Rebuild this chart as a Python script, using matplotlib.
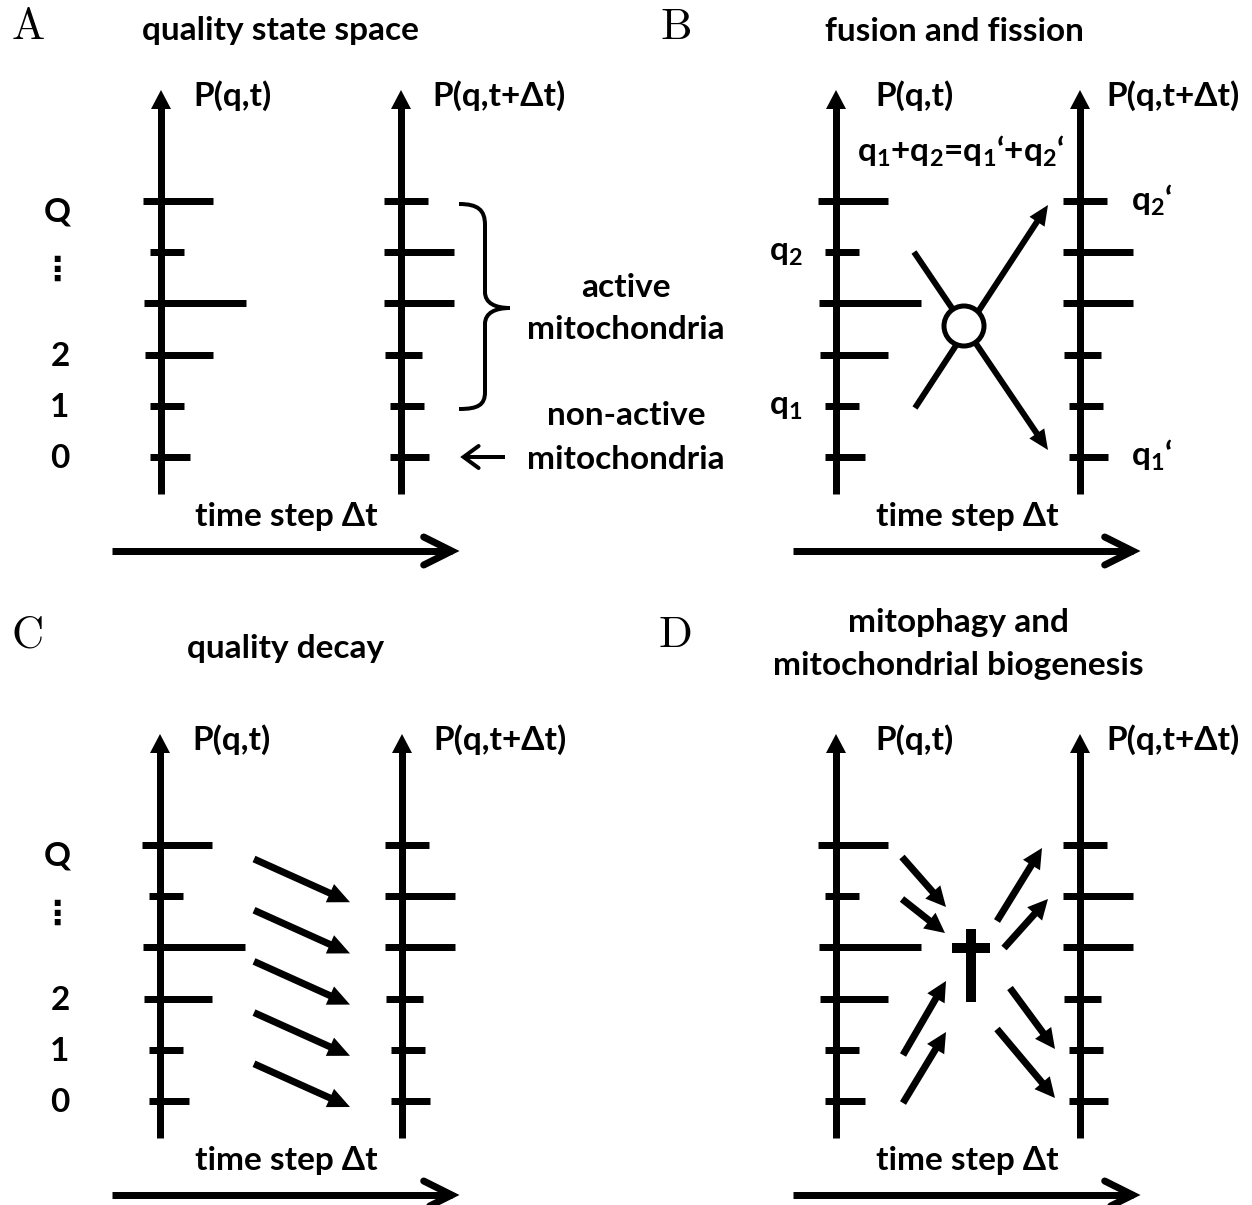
import matplotlib
matplotlib.use('Agg')
import matplotlib.pyplot as plt
from matplotlib.patches import Polygon, Circle, PathPatch, Rectangle
from matplotlib.path import Path
import numpy as np

W, H = 1252, 1205
DPI = 100
PX = 72 / DPI  # points per pixel

plt.rcParams['font.family'] = ['Lato', 'DejaVu Sans']
plt.rcParams['font.weight'] = 'bold'
plt.rcParams['mathtext.fontset'] = 'custom'
plt.rcParams['mathtext.rm'] = 'Lato:bold'
plt.rcParams['mathtext.it'] = 'Lato:bold'
plt.rcParams['mathtext.bf'] = 'Lato:bold'

# ---------------- data ----------------
level_labels = ['0', '1', '2', '', '\u22ee', 'Q']
p_t = [29, 23, 52, 85, 23, 52]          # bar length of P(q,t) per quality level
p_t_dt = [28, 23, 21, 53, 53, 27]       # bar length of P(q,t+dt) per quality level
overhang_t = [11, 11, 16, 17, 11, 18]
overhang_t_dt = [11, 11, 16, 17, 17, 17]
panel_letters = ['A', 'B', 'C', 'D']
panel_titles = ['quality state space', 'fusion and fission', 'quality decay',
                'mitophagy and\nmitochondrial biogenesis']
label_t = 'P(q,t)'
label_t_dt = 'P(q,t+\u0394t)'
time_label = 'time step \u0394t'

# ---------------- figure ----------------
fig = plt.figure(figsize=(W / DPI, H / DPI), dpi=DPI)
ax = fig.add_axes([0, 0, 1, 1])
ax.set_xlim(0, W)
ax.set_ylim(H, 0)
ax.axis('off')

FS = 24
LW = 7


def line(xs, ys, lw=LW, **kw):
    ax.plot(xs, ys, color='k', lw=lw * PX, solid_capstyle='butt', **kw)


def arrow(x0, y0, x1, y1, lw=7, hl=20, hw=10):
    d = np.array([x1 - x0, y1 - y0], float)
    u = d / np.hypot(*d)
    n = np.array([-u[1], u[0]])
    tip = np.array([x1, y1], float)
    base = tip - u * hl
    line([x0, base[0] + u[0]], [y0, base[1] + u[1]], lw)
    ax.add_patch(Polygon([tip, base + n * hw, base - n * hw], closed=True,
                         facecolor='k', edgecolor='none'))


def open_arrow(x0, y0, x1, y1, lw=7, hl=28, hw=14):
    d = np.array([x1 - x0, y1 - y0], float)
    u = d / np.hypot(*d)
    n = np.array([-u[1], u[0]])
    # pull the drawn tip back so the mitred join ends at the intended point
    tip = np.array([x1, y1], float) - u * lw * 0.9
    line([x0, tip[0]], [y0, tip[1]], lw)
    a = tip - u * hl + n * hw
    b = tip - u * hl - n * hw
    ax.plot([a[0], tip[0], b[0]], [a[1], tip[1], b[1]], color='k', lw=lw * PX,
            solid_joinstyle='miter', solid_capstyle='round')


def ly(yq, i):
    return yq + (5 - i) * 51.2


def quality_axis(x, yq, vals, over):
    # vertical axis with arrow
    arrow(x, yq + 293, x, yq - 111, lw=LW, hl=19, hw=10)
    for i, (v, o) in enumerate(zip(vals, over)):
        y = ly(yq, i)
        line([x - o, x + v], [y, y], LW)


panels = {
    'A': dict(xL=161, xR=401, yq=201, tx=280, ty=40),
    'B': dict(xL=836, xR=1080, yq=201, tx=954, ty=41),
    'C': dict(xL=160, xR=402, yq=845, tx=286, ty=658),
    'D': dict(xL=836, xR=1080, yq=845, tx=958, ty=632),
}

for k, (letter, title) in enumerate(zip(panel_letters, panel_titles)):
    p = panels[letter]
    xL, xR, yq = p['xL'], p['xR'], p['yq']
    quality_axis(xL, yq, p_t, overhang_t)
    quality_axis(xR, yq, p_t_dt, overhang_t_dt)
    # panel letter
    lx = 28 if letter in 'AC' else 676
    lyb = 39 if letter in 'AB' else 647
    ax.text(lx, lyb, letter, fontfamily='cmr10', fontweight='normal', fontsize=32,
            ha='center', va='baseline')
    # title
    if '\n' in title:
        t1, t2 = title.split('\n')
        ax.text(p['tx'], p['ty'], t1, fontsize=FS, ha='center', va='baseline')
        ax.text(p['tx'], p['ty'] + 43, t2, fontsize=FS, ha='center', va='baseline')
    else:
        ax.text(p['tx'], p['ty'], title, fontsize=FS, ha='center', va='baseline')
    # axis labels
    if letter in 'AC':
        ax.text(xL + 32, yq - 95, label_t, fontsize=FS, ha='left', va='baseline')
        ax.text(xR + 31, yq - 95, label_t_dt, fontsize=FS, ha='left', va='baseline')
    else:
        ax.text(xL + 39, yq - 95, label_t, fontsize=FS, ha='left', va='baseline')
        ax.text(xR + 26, yq - 95, label_t_dt, fontsize=FS, ha='left', va='baseline')
    # time arrow
    t0 = 112 if letter in 'AC' else 793
    ax.text(t0 + 174, yq + 325, time_label, fontsize=FS, ha='center', va='baseline')
    open_arrow(t0, yq + 350, t0 + 346, yq + 350, lw=7, hl=28, hw=14)
    # quality level labels in A and C
    if letter in 'AC':
        for i, lab in enumerate(level_labels):
            if not lab:
                continue
            y = ly(yq, i)
            if lab == 'Q':
                ax.text(57, y + 21, lab, fontsize=FS, ha='center', va='baseline')
            elif lab == '\u22ee':
                ax.text(57, y + 18, lab, fontsize=FS, ha='center', va='center',
                        fontfamily=['DejaVu Sans'])
            else:
                ax.text(60, y + 11, lab, fontsize=FS, ha='center', va='baseline')

# ---------- Panel A: brace and arrow ----------
A = panels['A']
yq = A['yq']
verts = [(459, 204), (478, 204), (485, 210), (485, 225),
         (485, 292),
         (485, 303), (495, 308), (510, 308),
         (495, 308), (485, 313), (485, 324),
         (485, 392),
         (485, 405), (478, 409), (459, 409)]
codes = [Path.MOVETO, Path.CURVE4, Path.CURVE4, Path.CURVE4,
         Path.LINETO,
         Path.CURVE4, Path.CURVE4, Path.CURVE4,
         Path.CURVE4, Path.CURVE4, Path.CURVE4,
         Path.LINETO,
         Path.CURVE4, Path.CURVE4, Path.CURVE4]
ax.add_patch(PathPatch(Path(verts, codes), facecolor='none', edgecolor='k',
                       lw=4 * PX, capstyle='butt'))
ax.text(626, 297, 'active', fontsize=FS, ha='center', va='baseline')
ax.text(626, 339, 'mitochondria', fontsize=FS, ha='center', va='baseline')
ax.text(626, 425, 'non-active', fontsize=FS, ha='center', va='baseline')
ax.text(626, 469, 'mitochondria', fontsize=FS, ha='center', va='baseline')
open_arrow(505, ly(yq, 0), 460, ly(yq, 0), lw=4, hl=15, hw=11)

# ---------- Panel B: fusion / fission ----------
B = panels['B']
yq = B['yq']
ax.text(786, ly(yq, 4) + 9, r'$\mathrm{q_2}$', fontsize=FS, ha='center', va='baseline')
ax.text(786, ly(yq, 1) + 9, r'$\mathrm{q_1}$', fontsize=FS, ha='center', va='baseline')
ax.text(1131, ly(yq, 5) + 10, r'$\mathrm{q_2}$' + '\u2018', fontsize=FS, ha='left', va='baseline')
ax.text(1131, ly(yq, 0) + 9, r'$\mathrm{q_1}$' + '\u2018', fontsize=FS, ha='left', va='baseline')
ax.text(961, 162, r'$\mathrm{q_1}$+$\mathrm{q_2}$=$\mathrm{q_1}$' + '\u2018+' + r'$\mathrm{q_2}$' + '\u2018',
        fontsize=FS, ha='center', va='baseline')
cx, cy = 964, 326
arrow(914, 252, 1048, 450, lw=6, hl=20, hw=9)
arrow(915, 408, 1048, 205, lw=6, hl=20, hw=9)
ax.add_patch(Circle((cx, cy), 20, facecolor='white', edgecolor='k', lw=5 * PX, zorder=3))

# ---------- Panel C: quality decay ----------
C = panels['C']
yq = C['yq']
for k in range(5, 0, -1):
    ys = ly(yq, k) + 14
    ye = ly(yq, k - 1) + 6
    arrow(C['xL'] + 94, ys, C['xL'] + 190, ye, lw=7, hl=22, hw=10)

# ---------- Panel D: mitophagy / biogenesis ----------
D = panels['D']
ax.add_patch(Rectangle((966, 929), 9.5, 73, facecolor='k', edgecolor='none'))
ax.add_patch(Rectangle((952, 943), 38, 10, facecolor='k', edgecolor='none'))
d_arrows = [
    ((902, 857), (946, 907)),
    ((902, 899), (945, 933)),
    ((903, 1055), (946, 981)),
    ((903, 1103), (946, 1032)),
    ((997, 921), (1042, 848)),
    ((1004, 948), (1048, 899)),
    ((1010, 988), (1055, 1049)),
    ((997, 1029), (1055, 1098)),
]
for (s, e) in d_arrows:
    arrow(s[0], s[1], e[0], e[1], lw=7, hl=20, hw=10)

fig.savefig('out.png', dpi=DPI, facecolor='white')
